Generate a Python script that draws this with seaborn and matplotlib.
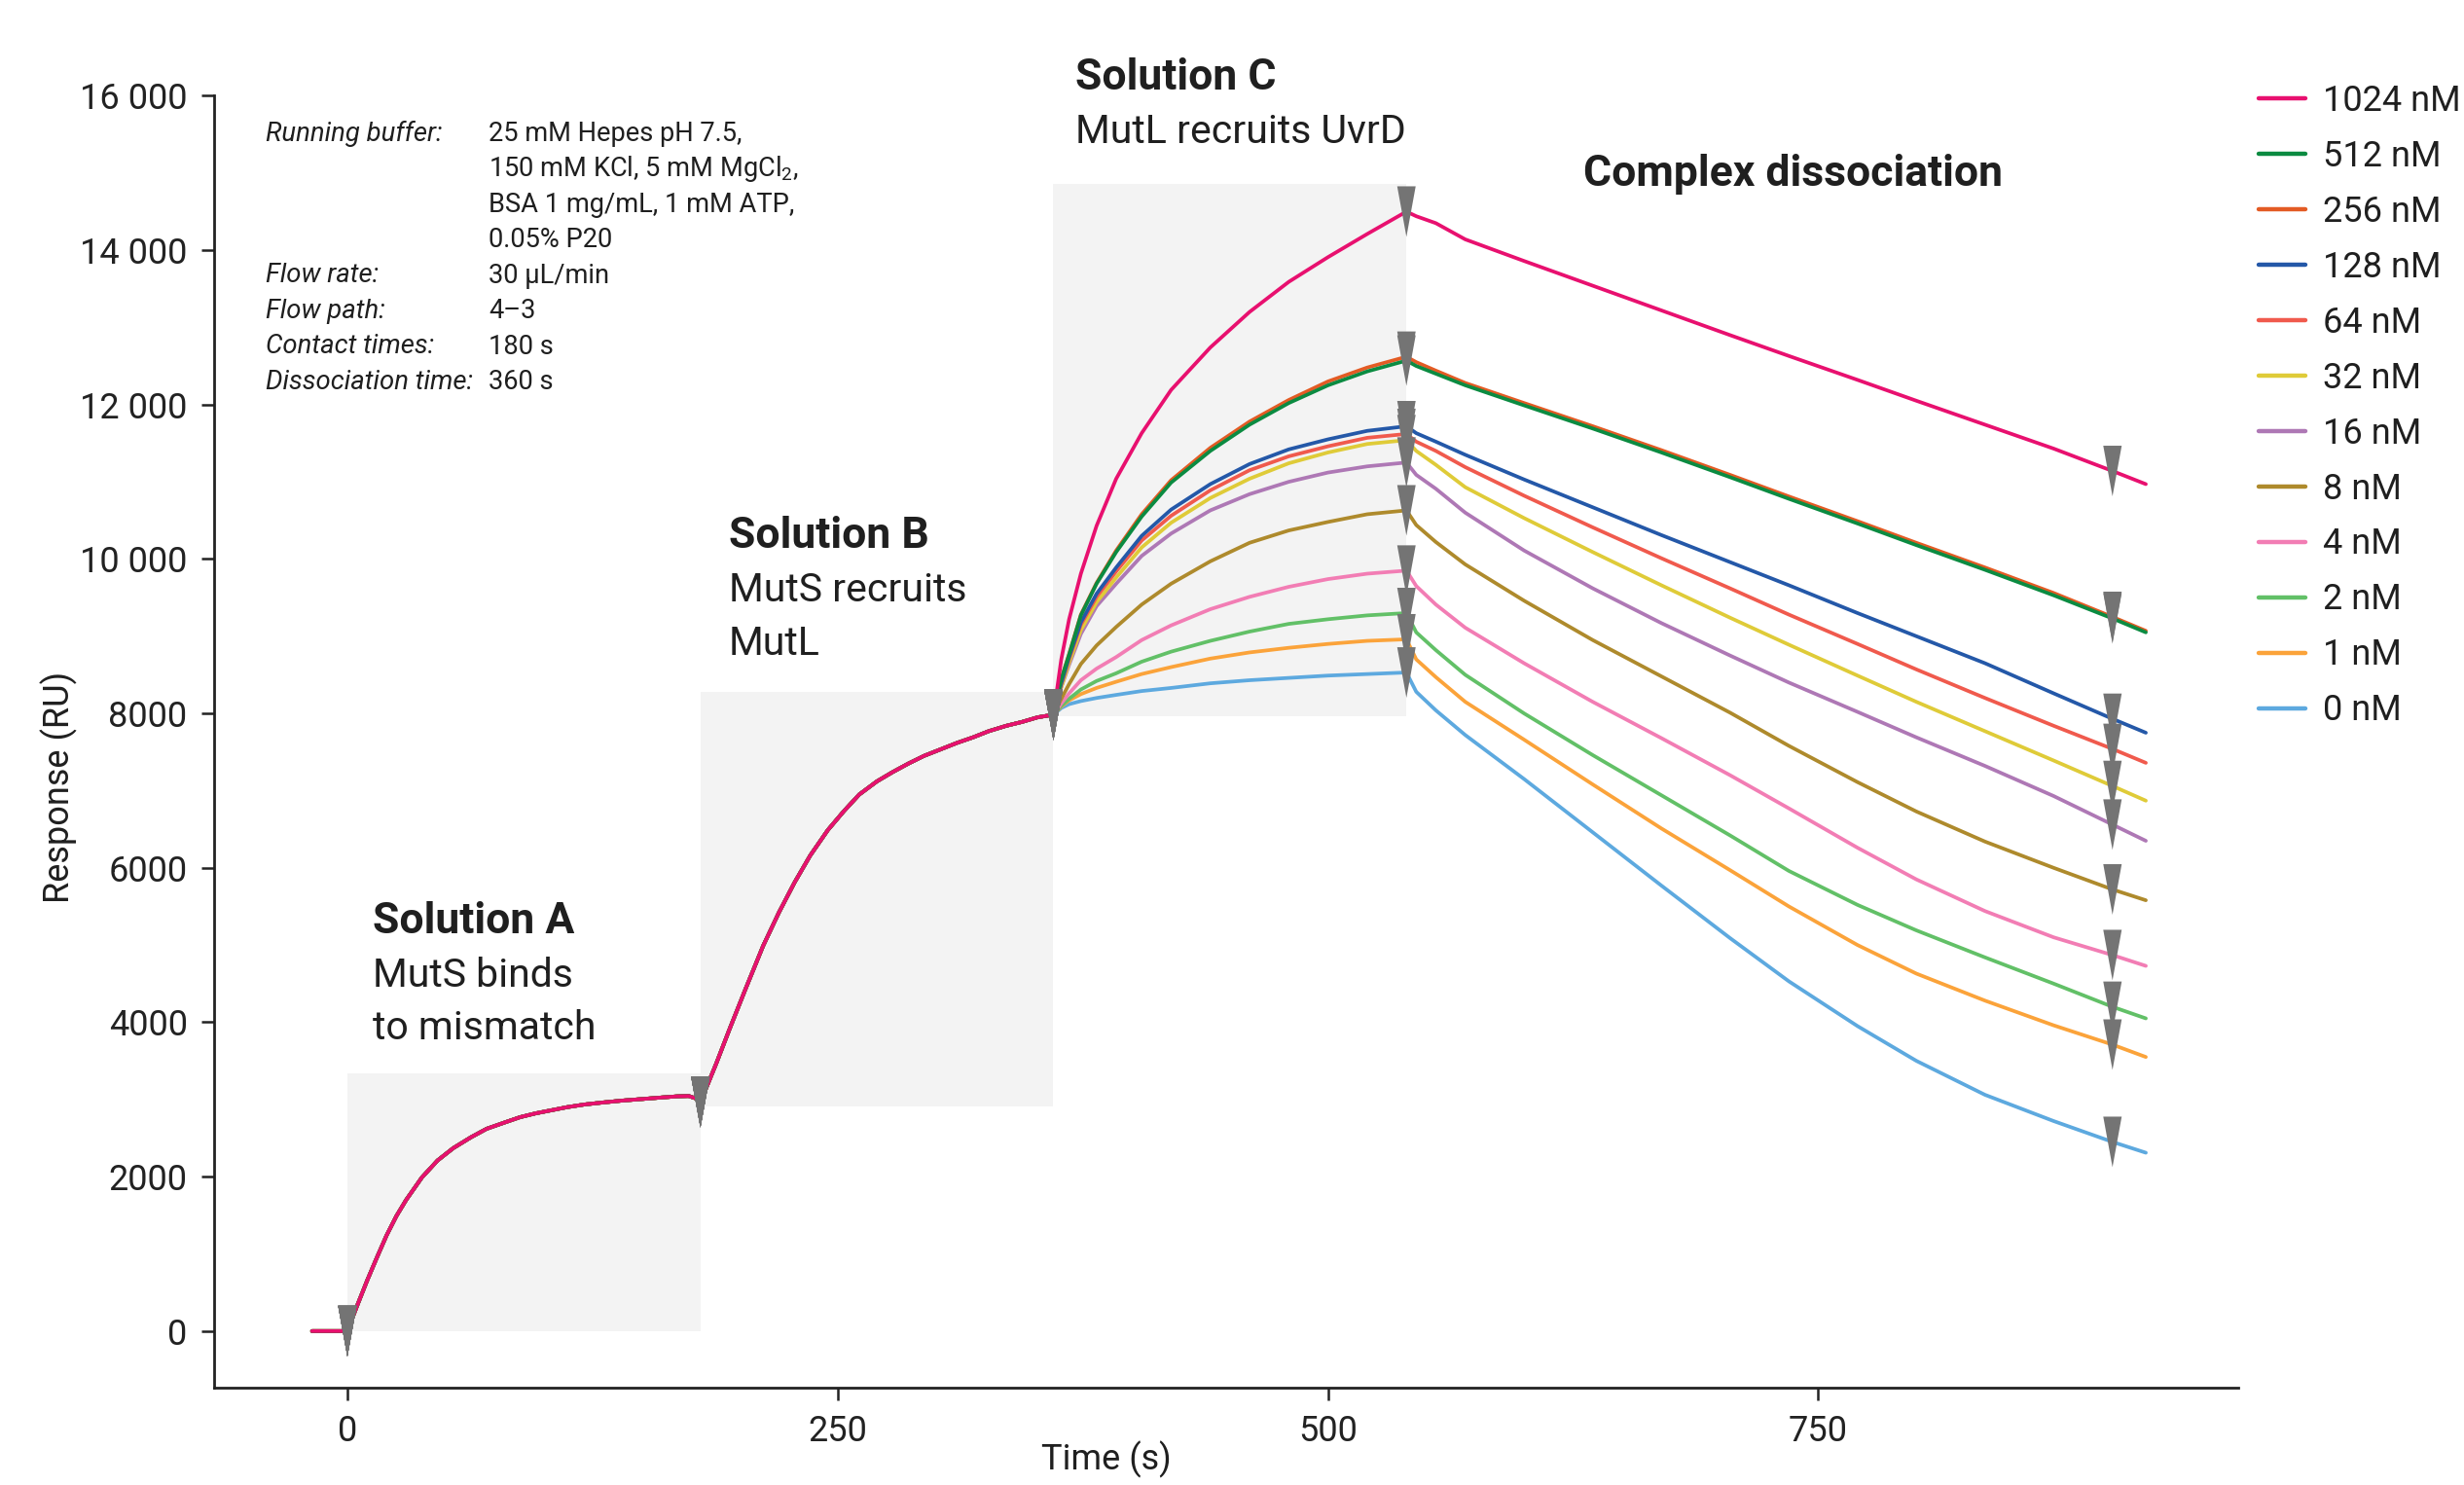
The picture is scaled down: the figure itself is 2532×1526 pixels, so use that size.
import pandas as pd
import seaborn as sns
import matplotlib.pyplot as plt
from matplotlib.path import Path
from matplotlib.markers import MarkerStyle

# concentrations (legend order) and their line colours
conc_labels = ["1024 nM", "512 nM", "256 nM", "128 nM", "64 nM", "32 nM",
               "16 nM", "8 nM", "4 nM", "2 nM", "1 nM", "0 nM"]
line_colors = ["#e8106f", "#0b8b41", "#e35b24", "#2458a8", "#f05a4d", "#dfcb38",
               "#ae78b5", "#ae8a2c", "#f27db4", "#62c067", "#fba33a", "#5da9df"]

# baseline + solution A + solution B (shared by all curves)
base_time = [-18]
base_resp = [0]
ab_time = [0, 5, 10, 15, 20, 25, 30, 38, 46, 54, 63, 71, 80, 88, 96, 104, 112, 121, 130, 140,
           150, 160, 168, 174, 178, 180, 183, 188, 195, 203, 212, 220, 228, 236, 245, 253, 261, 270, 278, 286,
           294, 303, 311, 319, 327, 336, 344, 352, 358, 360]
ab_resp = [0, 330, 650, 950, 1240, 1490, 1700, 1990, 2210, 2370, 2510, 2620, 2700, 2770, 2820, 2860, 2900, 2935, 2960, 2985,
           3005, 3025, 3040, 3045, 3010, 2965, 3150, 3460, 3920, 4430, 4990, 5420, 5810, 6160, 6490, 6730, 6950, 7120, 7240, 7350,
           7450, 7540, 7620, 7690, 7770, 7840, 7890, 7950, 7975, 7980]

# solution C (one row per concentration, same order as conc_labels)
c_time = [360, 364, 368, 374, 382, 392, 405, 420, 440, 460, 480, 500, 520, 540]
assoc_c = [
    [7980, 8700, 9220, 9810, 10430, 11040, 11630, 12190, 12740, 13200, 13590, 13910, 14210, 14500],
    [7980, 8440, 8760, 9270, 9680, 10090, 10550, 10990, 11400, 11740, 12020, 12250, 12430, 12570],
    [7980, 8450, 8770, 9280, 9690, 10110, 10580, 11020, 11440, 11780, 12060, 12300, 12480, 12620],
    [7980, 8390, 8730, 9180, 9550, 9890, 10300, 10640, 10970, 11230, 11420, 11550, 11660, 11720],
    [7980, 8380, 8710, 9150, 9510, 9840, 10240, 10560, 10890, 11150, 11330, 11460, 11570, 11620],
    [7980, 8340, 8660, 9080, 9440, 9760, 10150, 10470, 10790, 11040, 11240, 11380, 11490, 11540],
    [7980, 8340, 8630, 9030, 9390, 9680, 10040, 10330, 10630, 10840, 11000, 11120, 11200, 11250],
    [7980, 8190, 8380, 8640, 8880, 9120, 9410, 9680, 9970, 10210, 10370, 10480, 10580, 10630],
    [7980, 8130, 8260, 8430, 8580, 8730, 8950, 9140, 9350, 9510, 9640, 9740, 9810, 9850],
    [7980, 8100, 8190, 8310, 8420, 8520, 8670, 8800, 8940, 9060, 9160, 9220, 9270, 9300],
    [7980, 8090, 8170, 8250, 8330, 8410, 8510, 8600, 8710, 8790, 8850, 8900, 8940, 8960],
    [7980, 8070, 8120, 8160, 8200, 8240, 8290, 8330, 8390, 8430, 8460, 8490, 8510, 8530],
]

# complex dissociation
d_time = [540, 545, 555, 570, 600, 635, 670, 705, 735, 770, 800, 835, 870, 900, 917]
dissoc = [
    [14500, 14440, 14350, 14140, 13860, 13540, 13220, 12900, 12630, 12320, 12050, 11740, 11430, 11140, 10970],
    [12570, 12500, 12400, 12250, 11990, 11690, 11380, 11060, 10780, 10460, 10180, 9860, 9530, 9230, 9050],
    [12620, 12550, 12440, 12280, 12020, 11720, 11410, 11090, 10810, 10490, 10210, 9890, 9560, 9250, 9070],
    [11720, 11630, 11520, 11350, 11030, 10670, 10310, 9960, 9660, 9300, 9000, 8650, 8260, 7930, 7750],
    [11620, 11520, 11400, 11190, 10820, 10410, 10010, 9620, 9280, 8900, 8570, 8200, 7840, 7540, 7360],
    [11540, 11400, 11220, 10930, 10530, 10090, 9660, 9240, 8890, 8490, 8150, 7770, 7390, 7060, 6870],
    [11250, 11090, 10910, 10600, 10110, 9620, 9170, 8750, 8400, 8020, 7690, 7320, 6930, 6560, 6350],
    [10630, 10440, 10220, 9930, 9460, 8950, 8480, 8010, 7580, 7110, 6730, 6340, 6000, 5720, 5580],
    [9850, 9650, 9410, 9110, 8650, 8150, 7680, 7200, 6770, 6260, 5850, 5440, 5100, 4870, 4730],
    [9300, 9050, 8820, 8500, 8000, 7460, 6940, 6420, 5960, 5520, 5190, 4840, 4500, 4200, 4050],
    [8960, 8700, 8470, 8150, 7660, 7080, 6510, 5970, 5500, 5000, 4630, 4280, 3960, 3710, 3550],
    [8530, 8280, 8040, 7720, 7150, 6460, 5770, 5090, 4530, 3950, 3500, 3060, 2720, 2450, 2310],
]

# injection markers and shaded injection windows
marker_times = [0, 180, 360, 540, 900]
shade_start = [0, 180, 360]
shade_end = [180, 360, 540]
shade_low = [0, 2910, 7960]
shade_high = [3340, 8285, 14860]

x_ticks = [0, 250, 500, 750]
y_ticks = [0, 2000, 4000, 6000, 8000, 10000, 12000, 14000, 16000]
y_tick_labels = ["0", "2000", "4000", "6000", "8000", "10 000", "12 000", "14 000", "16 000"]

info_rows = [
    ("Running buffer:", ["25 mM Hepes pH 7.5,", "150 mM KCl, 5 mM MgCl$_2$,",
                         "BSA 1 mg/mL, 1 mM ATP,", "0.05% P20"]),
    ("Flow rate:", ["30 µL/min"]),
    ("Flow path:", ["4–3"]),
    ("Contact times:", ["180 s"]),
    ("Dissociation time:", ["360 s"]),
]

sns.set_style("ticks")
plt.rcParams["font.family"] = ["Roboto", "DejaVu Sans"]
plt.rcParams["mathtext.fontset"] = "custom"
plt.rcParams["mathtext.rm"] = "Roboto"
plt.rcParams["mathtext.it"] = "Roboto:italic"
plt.rcParams["mathtext.bf"] = "Roboto:bold"
text_col = "#1f1f1f"

frames = []
for label, c_vals, d_vals in zip(conc_labels, assoc_c, dissoc):
    t = base_time + ab_time + c_time[1:] + d_time[1:]
    r = base_resp + ab_resp + c_vals[1:] + d_vals[1:]
    frames.append(pd.DataFrame({"time": t, "response": r, "conc": label}))
df = pd.concat(frames, ignore_index=True)

fig = plt.figure(figsize=(25.32, 15.26), dpi=100)
ax = fig.add_axes([0.0867, 0.0655, 0.8215, 0.87])

for s, e, lo, hi in zip(shade_start, shade_end, shade_low, shade_high):
    ax.fill_between([s, e], lo, hi, color="#f3f3f3", lw=0, zorder=0)

palette = dict(zip(conc_labels, line_colors))
sns.lineplot(data=df, x="time", y="response", hue="conc", hue_order=conc_labels[::-1],
             palette=palette, estimator=None, sort=False, lw=2.7, ax=ax)

tri = MarkerStyle(Path([(-0.365, 1), (0.365, 1), (0, -1), (-0.365, 1)]))
marks = df[df["time"].isin(marker_times)]
sns.scatterplot(data=marks, x="time", y="response", marker=tri, s=1400, color="#747474",
                edgecolor="none", linewidth=0, legend=False, ax=ax, zorder=5)

handles, labels = ax.get_legend_handles_labels()
for h in handles:
    h.set_linewidth(3.2)
ax.legend(handles[::-1], labels[::-1], loc="upper left", bbox_to_anchor=(0.9165, 0.9437),
          bbox_transform=fig.transFigure, frameon=False, fontsize=26, handlelength=1.33,
          handletextpad=0.5, labelspacing=0.58, borderpad=0, borderaxespad=0,
          labelcolor=text_col)

ax.set_xlim(-68.2, 963.9)
ax.set_ylim(-734, 16000)
ax.set_xticks(x_ticks)
ax.set_yticks(y_ticks)
ax.set_yticklabels(y_tick_labels)
sns.despine(ax=ax)
for side in ["left", "bottom"]:
    ax.spines[side].set_linewidth(2.0)
    ax.spines[side].set_color("#222222")
ax.tick_params(length=9.4, width=1.8, labelsize=26, pad=10, colors="#222222")

ax.set_xlabel("Time (s)", fontsize=26, color=text_col)
ax.xaxis.set_label_coords(0.441, -0.041)
ax.set_ylabel("Response (RU)", fontsize=26, color=text_col)
ax.yaxis.set_label_coords(-0.0763, 0.465)
ax.yaxis.label.set_va("center")

# phase annotations
bold_kw = dict(fontsize=32, fontweight="bold", color=text_col, va="center", ha="left", clip_on=False)
reg_kw = dict(fontsize=29.5, color=text_col, va="center", ha="left", clip_on=False)
ax.text(13, 5300, "Solution A", **bold_kw)
ax.text(13, 4605, "MutS binds", **reg_kw)
ax.text(13, 3920, "to mismatch", **reg_kw)
ax.text(194.5, 10290, "Solution B", **bold_kw)
ax.text(194.5, 9595, "MutS recruits", **reg_kw)
ax.text(194.5, 8905, "MutL", **reg_kw)
ax.text(371, 16230, "Solution C", **bold_kw)
ax.text(371, 15538, "MutL recruits UvrD", **reg_kw)
ax.text(630, 14980, "Complex dissociation", **bold_kw)

# run conditions block
y = 0.9708
step = 0.0275
for lab, vals in info_rows:
    ax.text(0.0257, y, lab, transform=ax.transAxes, fontsize=19.8, style="italic",
            color=text_col, va="center", ha="left")
    for v in vals:
        ax.text(0.1358, y, v, transform=ax.transAxes, fontsize=19.6,
                color=text_col, va="center", ha="left")
        y -= step

fig.savefig("out.png", dpi=100)
